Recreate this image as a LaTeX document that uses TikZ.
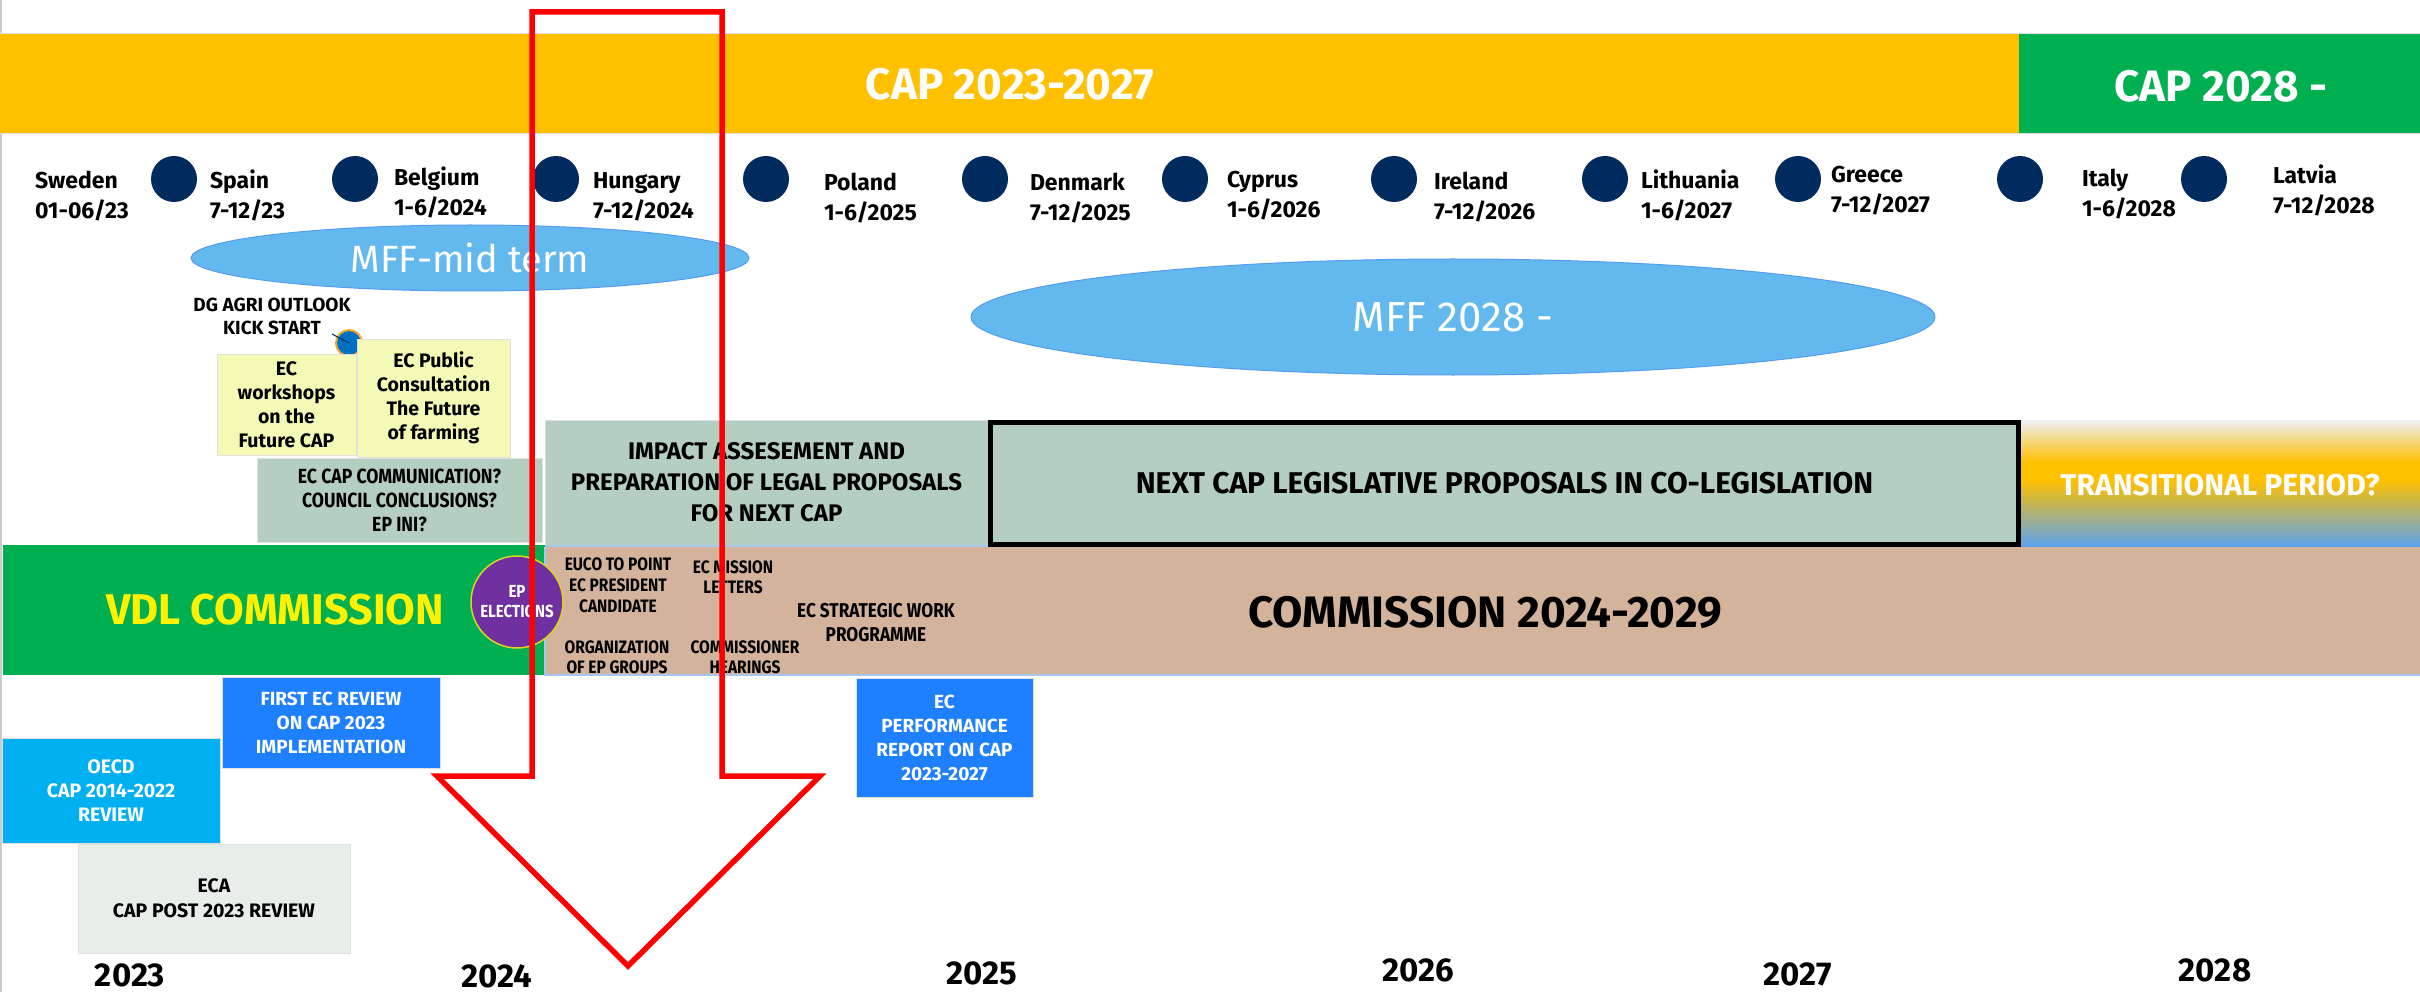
\documentclass[tikz,border=0pt]{standalone}
\usepackage{fontspec}
\setmainfont{Fira Sans}
\newfontfamily\fn{Fira Sans}[FakeStretch=0.86]
\usetikzlibrary{shapes.geometric}
\newcommand\fz[2]{\fontsize{#1}{#2}\selectfont}
\definecolor{gold}{HTML}{FFC000}
\definecolor{capgreen}{HTML}{00B050}
\definecolor{navy}{HTML}{002B5F}
\definecolor{mffblue}{HTML}{63B8EE}
\definecolor{paleyellow}{HTML}{F4FAB6}
\definecolor{sage}{HTML}{B4CFC2}
\definecolor{tan}{HTML}{D3B39B}
\definecolor{epurple}{HTML}{7030A0}
\definecolor{brightblue}{HTML}{1F80FF}
\definecolor{cyanbox}{HTML}{00B0F0}
\definecolor{ecagrey}{HTML}{E7EDE9}
\definecolor{edgeblue}{HTML}{A7C7EE}
\definecolor{transtop}{HTML}{EEF0F6}
\definecolor{transblue}{HTML}{5AA2F0}
\definecolor{dotblue}{HTML}{0070C0}
\definecolor{dotedge}{HTML}{F0A830}
\begin{document}
\begin{tikzpicture}[x=1pt,y=-1pt,
  every node/.style={inner sep=0pt,outer sep=0pt},
  ctry/.style={anchor=west,align=left,font=\bfseries\fz{23}{30}},
  navydot/.style={circle,fill=navy,minimum size=46pt},
  mff/.style={ellipse,fill=mffblue,draw=mffblue!85!blue,line width=1pt,text=white},
  boxn/.style={rectangle,align=center,draw=black!12,line width=1pt},
  smalltxt/.style={align=center,font=\bfseries\fn\fz{18}{21}},
  bluebox/.style={boxn,fill=brightblue,text=white,font=\bfseries\fz{19}{24}},
  yearlbl/.style={font=\bfseries\fz{33}{36}},
  redarrow/.style={draw=red,line width=5.5pt,line join=miter}
]
\useasboundingbox (0,0) rectangle (2420,992);
\fill[white] (0,0) rectangle (2420,992);
\draw[black!20,line width=1.5pt] (0.75,0) -- (0.75,992);

% top bars
\fill[gold] (0,34) rectangle (2019,134);
\fill[capgreen] (2019,34) rectangle (2420,134);
\draw[black!12,line width=1pt] (0,34) -- (2420,34) (0,134) -- (2420,134);
\node[text=white,font=\bfseries\fz{44}{50}] (cap1) at (1010,84) {CAP 2023-2027};
\node[text=white,font=\bfseries\fz{44}{50}] (cap2) at (2221,86) {CAP 2028 -};

% presidency dots
\foreach \n/\x in {d1/174,d2/355,d3/556,d4/766,d5/985,d6/1185,d7/1394,d8/1605,d9/1798,d10/2020,d11/2204}
  \node[navydot] (\n) at (\x,179) {};

% presidency labels
\node[ctry] (swe) at (35,196) {Sweden\\01-06/23};
\node[ctry] (spa) at (210,195) {Spain\\7-12/23};
\node[ctry] (bel) at (394,192) {Belgium\\1-6/2024};
\node[ctry] (hun) at (593,197) {Hungary\\7-12/2024};
\node[ctry] (pol) at (824,198) {Poland\\1-6/2025};
\node[ctry] (den) at (1030,198) {Denmark\\7-12/2025};
\node[ctry] (cyp) at (1227,196) {Cyprus\\1-6/2026};
\node[ctry] (ire) at (1434,197) {Ireland\\7-12/2026};
\node[ctry] (lit) at (1641,195) {Lithuania\\1-6/2027};
\node[ctry] (gre) at (1831,191) {Greece\\7-12/2027};
\node[ctry] (ita) at (2082,194) {Italy\\1-6/2028};
\node[ctry] (lat) at (2273,190) {Latvia\\7-12/2028};

% MFF ellipses
\node[mff,minimum width=558pt,minimum height=66pt,font=\fz{38}{40}] (mffmid) at (470,258) {MFF-mid term};
\node[mff,minimum width=964pt,minimum height=116pt,font=\fz{42}{44}] (mff28) at (1453,317) {MFF 2028 -};

% DG AGRI outlook
\node[align=center,font=\bfseries\fz{19}{23}] (dg) at (272,316) {DG AGRI OUTLOOK\\KICK START};
\node[circle,fill=dotblue,draw=dotedge,line width=2pt,minimum size=26pt] (kdot) at (349,343) {};
\coordinate (kk) at (332,334);
\draw[navy,line width=1pt] (kk) -- (kdot.center);

% yellow boxes
\node[boxn,fill=paleyellow,minimum width=139pt,minimum height=101pt,font=\bfseries\fz{19.5}{24}] (ws) at (286.5,404.5) {EC\\workshops\\on the\\Future CAP};
\node[boxn,fill=paleyellow,minimum width=153pt,minimum height=118pt,font=\bfseries\fz{19.5}{24}] (pc) at (433.5,398) {EC Public\\Consultation\\The Future\\of farming};

% communication box
\node[boxn,fill=sage,minimum width=285pt,minimum height=84pt,font=\bfseries\fn\fz{20.5}{24}] (comm) at (399.5,500) {EC CAP COMMUNICATION?\\COUNCIL CONCLUSIONS?\\EP INI?};

% impact assessment
\node[boxn,fill=sage,minimum width=443pt,minimum height=125pt,font=\bfseries\fz{24}{31}] (impact) at (766.5,482.5) {IMPACT ASSESEMENT AND\\PREPARATION OF LEGAL PROPOSALS\\FOR NEXT CAP};

% next CAP legislative proposals
\fill[sage] (988,420) rectangle (2021,547);
\node[draw=black,line width=5pt,minimum width=1028pt,minimum height=122pt,font=\bfseries\fz{30}{34}] (next) at (1504.5,483.5) {NEXT CAP LEGISLATIVE PROPOSALS IN CO-LEGISLATION};

% transitional period
\shade[top color=transtop,bottom color=gold] (2021,420) rectangle (2420,462);
\fill[gold] (2021,461.5) rectangle (2420,480.5);
\shade[top color=gold,bottom color=transblue] (2021,480) rectangle (2420,547);
\node[text=white,font=\bfseries\fz{30}{34}] (trans) at (2220,485) {TRANSITIONAL PERIOD?};

% VDL commission band
\fill[capgreen] (3,545) rectangle (545,675);
\node[text=yellow,font=\bfseries\fz{43}{46}] (vdl) at (275,610) {VDL COMMISSION};

% commission 2024-2029 band
\fill[tan] (545,547) rectangle (2420,675);
\draw[edgeblue,line width=1.5pt] (545,547) -- (545,675) -- (2420,675);
\draw[edgeblue,line width=1.5pt] (545,546) -- (988,546);
\node[font=\bfseries\fz{44}{48}] (com) at (1485,612) {COMMISSION 2024-2029};

% EP elections
\node[circle,fill=epurple,draw=yellow!85!black,line width=1.5pt,minimum size=92pt] (ep) at (517,602) {};
\node[text=white,align=center,font=\bfseries\fn\fz{17.5}{20}] (eptxt) at (ep.center) {EP\\ELECTIONS};

% small texts in commission band
\node[smalltxt] (euco) at (618,585) {EUCO TO POINT\\EC PRESIDENT\\CANDIDATE};
\node[smalltxt,font=\bfseries\fn\fz{18}{20}] (mission) at (733,577) {EC MISSION\\LETTERS};
\node[smalltxt,font=\bfseries\fn\fz{20}{24}] (strat) at (876,623) {EC STRATEGIC WORK\\PROGRAMME};
\node[smalltxt,font=\bfseries\fn\fz{18}{20}] (org) at (617,657) {ORGANIZATION\\OF EP GROUPS};
\node[smalltxt,font=\bfseries\fn\fz{18}{20}] (hear) at (745,657) {COMMISSIONER\\HEARINGS};

% review boxes
\node[bluebox,minimum width=218pt,minimum height=91pt] (first) at (331,722.5) {FIRST EC REVIEW\\ON CAP 2023\\IMPLEMENTATION};
\node[bluebox,minimum width=177pt,minimum height=119pt] (perf) at (944.5,737.5) {EC\\PERFORMANCE\\REPORT ON CAP\\2023-2027};
\node[boxn,fill=cyanbox,text=white,minimum width=218pt,minimum height=105pt,font=\bfseries\fz{19.5}{24}] (oecd) at (111,790.5) {OECD\\CAP 2014-2022\\REVIEW};
\node[boxn,fill=ecagrey,minimum width=272pt,minimum height=109pt,font=\bfseries\fz{19.5}{25}] (eca) at (214,898.5) {ECA\\CAP POST 2023 REVIEW};

% years
\node[yearlbl] (y23) at (130,975) {2023};
\node[yearlbl] (y24) at (497,976) {2024};
\node[yearlbl] (y25) at (982,973) {2025};
\node[yearlbl] (y26) at (1418,970) {2026};
\node[yearlbl] (y27) at (1798,974) {2027};
\node[yearlbl] (y28) at (2215,970) {2028};

% red outline arrow
\draw[redarrow] (532,12) -- (722,12) -- (722,776) -- (820,776) -- (628,966) -- (437,776) -- (532,776) -- cycle;
\end{tikzpicture}
\end{document}
